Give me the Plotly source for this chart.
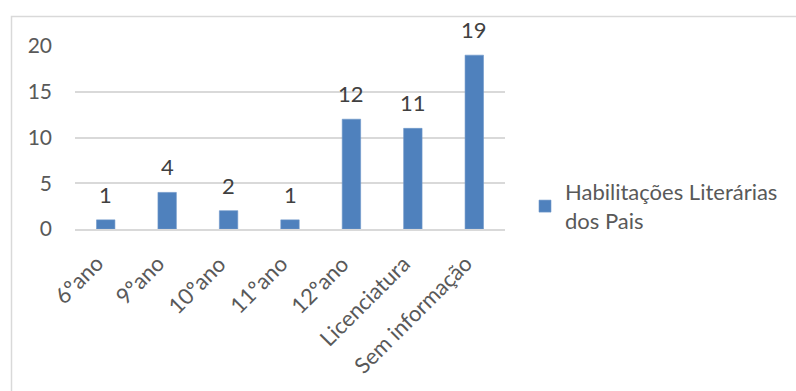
import plotly.graph_objects as go

# Parents' education levels and number of students in each group
categories = ["6ºano", "9ºano", "10ºano", "11ºano", "12ºano", "Licenciatura", "Sem informação"]
counts = [1, 4, 2, 1, 12, 11, 19]
series_name = "Habilitações Literárias<br>dos Pais"
y_ticks = [0, 5, 10, 15, 20]

W, H = 796, 391
L, R, T, B = 75, 291, 46, 162
plot_w = W - L - R
plot_h = H - T - B

FONT = "Lato, 'Open Sans', sans-serif"

fig = go.Figure(
    go.Bar(
        x=categories,
        y=counts,
        name=series_name,
        width=0.3,
        marker=dict(color="#4f81bd", line=dict(color="#6f97c9", width=0.6)),
        showlegend=True,
    )
)

# Value labels above each bar
for cat, val in zip(categories, counts):
    fig.add_annotation(
        x=cat, y=val, text=str(val), showarrow=False,
        xanchor="center", yanchor="bottom", yshift=10,
        font=dict(family=FONT, size=22, color="#404040"),
    )

# Category labels, slanted and ending just below each bar
for cat in categories:
    fig.add_annotation(
        x=cat, y=0, text=cat, showarrow=False, textangle=-45,
        xanchor="right", yanchor="top", xshift=5, yshift=-18,
        font=dict(family=FONT, size=22, color="#595959"),
    )

# Light frame around the chart area
frame_x0 = (11.5 - L) / plot_w
frame_y1 = (H - B - 16.5) / plot_h
fig.add_shape(
    type="rect", xref="paper", yref="paper",
    x0=frame_x0, x1=2.0, y0=-2.0, y1=frame_y1,
    line=dict(color="#d9d9d9", width=1.5), fillcolor="rgba(0,0,0,0)",
    layer="below",
)

fig.update_layout(
    width=W, height=H,
    margin=dict(l=L, r=R, t=T, b=B, pad=0, autoexpand=False),
    paper_bgcolor="white", plot_bgcolor="white",
    font=dict(family=FONT, size=22, color="#595959"),
    xaxis=dict(
        type="category",
        range=[-0.5, len(categories) - 0.5],
        showgrid=False, showticklabels=False,
        showline=True, linecolor="#d9d9d9", linewidth=1.5,
        ticks="",
    ),
    yaxis=dict(
        range=[0, 20],
        tickvals=y_ticks,
        showgrid=True, gridcolor="#d9d9d9", gridwidth=1.5,
        zeroline=False, showline=False, ticks="",
        ticklabelstandoff=22,
        tickfont=dict(family=FONT, size=21, color="#595959"),
    ),
    legend=dict(
        x=(525 - L) / plot_w, y=(H - B - 171) / plot_h,
        xanchor="left", yanchor="top",
        font=dict(family=FONT, size=22, color="#595959"),
        bgcolor="rgba(0,0,0,0)",
        itemwidth=30,
    ),
)

fig.write_html("out.html")
